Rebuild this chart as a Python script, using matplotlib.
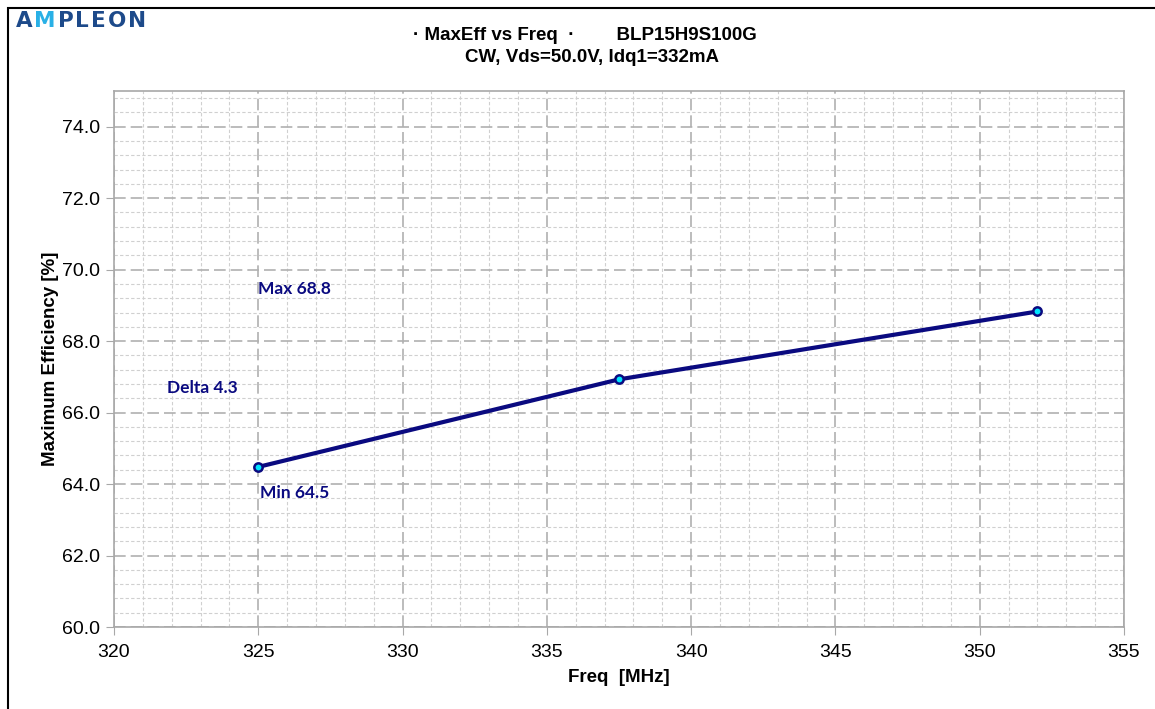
import matplotlib.pyplot as plt
from matplotlib.ticker import MultipleLocator
from matplotlib.patches import Rectangle

# data
freq = [325.0, 337.5, 352.0]
max_eff = [64.48, 66.93, 68.83]
x_ticks = [320, 325, 330, 335, 340, 345, 350, 355]
y_ticks = [60.0, 62.0, 64.0, 66.0, 68.0, 70.0, 72.0, 74.0]
eff_max = 68.8
eff_min = 64.5
eff_delta = 4.3

navy = '#0a0a80'
W, H = 1155, 709

fig = plt.figure(figsize=(W / 100, H / 100), dpi=100)
ax = fig.add_axes([114 / W, 1 - 627 / H, (1124 - 114) / W, (627 - 91) / H])

# outer frame
fig.patches.append(Rectangle((8 / W, -0.01), 1.2, 1 - 8 / H + 0.01,
                             transform=fig.transFigure, fill=False,
                             edgecolor='black', linewidth=1.5))

ax.plot(freq, max_eff, color=navy, linewidth=3, zorder=5)
ax.plot(freq, max_eff, linestyle='none', marker='o', markersize=6,
        markerfacecolor='#00e5ff', markeredgecolor=navy, markeredgewidth=1.8, zorder=6)

ax.set_xlim(320, 355)
ax.set_ylim(60, 75)
ax.set_xticks(x_ticks)
ax.set_yticks(y_ticks)
ax.set_yticklabels([f'{v:.1f}' for v in y_ticks])
ax.xaxis.set_minor_locator(MultipleLocator(1))
ax.yaxis.set_minor_locator(MultipleLocator(0.4))

ax.grid(which='major', color='#b0b0b0', linestyle=(0, (7, 3)), linewidth=1.2)
ax.grid(which='minor', color='#d0d0d0', linestyle=(0, (3, 2)), linewidth=0.8)
ax.set_axisbelow(True)

for s in ax.spines.values():
    s.set_color('#a8a8a8')
    s.set_linewidth(1.2)

ax.tick_params(which='major', direction='out', length=6, color='#a8a8a8',
               labelsize=14, pad=4, labelfontfamily='Liberation Sans')
ax.tick_params(which='minor', length=0)
ax.tick_params(axis='x', pad=6)

ax.set_xlabel('Freq  [MHz]', fontsize=13.5, fontweight='bold',
              family='Liberation Sans', labelpad=6)
ax.set_ylabel('Maximum Efficiency [%]', fontsize=13.5, fontweight='bold',
              family='Liberation Sans', labelpad=2)

# annotations
ann = dict(color=navy, fontsize=12.5, fontweight='bold', family='Lato')
ax.text(325.0, 69.45, f'Max {eff_max}', ha='left', va='center', **ann)
ax.text(321.85, 66.7, f'Delta {eff_delta}', ha='left', va='center', **ann)
ax.text(325.05, 63.75, f'Min {eff_min}', ha='left', va='center', **ann)

# title
fig.text(585 / W, 1 - 35 / H, '· MaxEff vs Freq  ·        BLP15H9S100G',
         ha='center', va='center', fontsize=13.5, fontweight='bold', family='Liberation Sans')
fig.text(592 / W, 1 - 57 / H, 'CW, Vds=50.0V, Idq1=332mA',
         ha='center', va='center', fontsize=13.5, fontweight='bold', family='Liberation Sans')

# logo
logo_y = 1 - 21 / H
x0 = 16 / W
r = fig.canvas.get_renderer()
for ch in 'AMPLEON':
    col = '#29b0e6' if ch == 'M' else '#1d4a8a'
    t = fig.text(x0, logo_y, ch, ha='left', va='center', fontsize=15.5,
                 color=col, family='DejaVu Sans', fontweight='semibold')
    bb = t.get_window_extent(renderer=r)
    x0 += (bb.width + 1.8) / W

fig.savefig('out.png', dpi=100)
